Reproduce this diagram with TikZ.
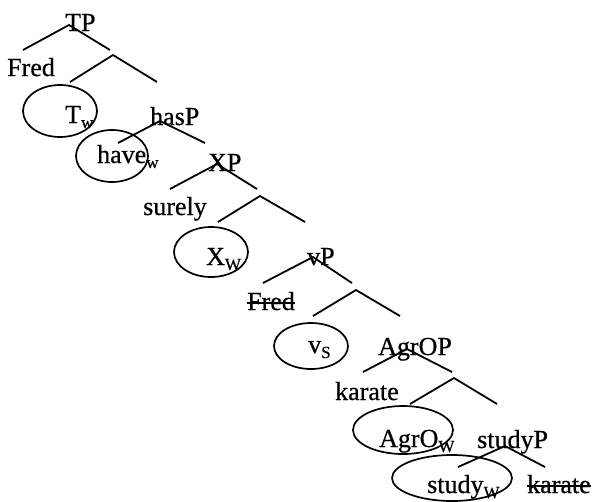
\documentclass[tikz,border=0pt]{standalone}
\usepackage{fontspec}
\setmainfont{Liberation Serif}[FakeBold=0.6]
\usetikzlibrary{shapes.geometric}
\newcommand\mysub[1]{\raisebox{-5pt}{\fontsize{17}{17}\selectfont #1}}
\tikzset{
  lbl/.style={anchor=base west, inner sep=0pt, font=\fontsize{26}{30}\selectfont},
  branch/.style={line width=1.8pt},
  ring/.style={draw, ellipse, line width=1.7pt, inner sep=0pt},
  strike/.style={line width=1.3pt}
}
\begin{document}
\begin{tikzpicture}[x=1pt,y=-1pt]
\useasboundingbox (0,0) rectangle (593,501);
% ellipses
\node[ring, minimum width=74pt, minimum height=52pt] (eT) at (60,111) {};
\node[ring, minimum width=72pt, minimum height=52pt] (eHave) at (112,156) {};
\node[ring, minimum width=74pt, minimum height=50pt] (eX) at (211,252) {};
\node[ring, minimum width=74pt, minimum height=46pt] (eV) at (311,346) {};
\node[ring, minimum width=100pt, minimum height=48pt] (eAgr) at (403,430) {};
\node[ring, minimum width=120pt, minimum height=46pt] (eStudy) at (452,478) {};
% labels
\node[lbl] (tp) at (65,31) {TP};
\node[lbl] (fred) at (7,76) {Fred};
\node[lbl] (tw) at (65,123) {T\mysub{w}};
\node[lbl] (hasp) at (150,125) {hasP};
\node[lbl] (have) at (97,163) {have\mysub{w}};
\node[lbl] (xp) at (208,171) {XP};
\node[lbl] (surely) at (143,215) {surely};
\node[lbl] (xw) at (206,265) {X\mysub{W}};
\node[lbl] (vp) at (307,265) {vP};
\node[lbl] (fred2) at (247,310) {Fred};
\node[lbl] (vs) at (308,353) {v\mysub{S}};
\node[lbl] (agrop) at (378,355) {AgrOP};
\node[lbl] (karate) at (335,400) {karate};
\node[lbl] (agrow) at (379,447) {AgrO\mysub{W}};
\node[lbl] (studyp) at (477,448) {studyP};
\node[lbl] (study) at (427,493) {study\mysub{W}};
\node[lbl] (karate2) at (527,493) {karate};
% strikethroughs
\draw[strike] ([yshift=7pt]fred2.base west) -- ([yshift=7pt]fred2.base east);
\draw[strike] ([yshift=7pt]karate2.base west) -- ([yshift=7pt]karate2.base east);
% branch points
\coordinate (a1) at (69,25);  \coordinate (a1l) at (23,50);  \coordinate (a1r) at (110,50);
\coordinate (a2) at (113,55); \coordinate (a2l) at (70,82);  \coordinate (a2r) at (157,82);
\coordinate (a3) at (160,121);\coordinate (a3l) at (118,143);\coordinate (a3r) at (205,143);
\coordinate (a4) at (217,164);\coordinate (a4l) at (170,189);\coordinate (a4r) at (257,189);
\coordinate (a5) at (260,196);\coordinate (a5l) at (218,222);\coordinate (a5r) at (305,222);
\coordinate (a6) at (313,257);\coordinate (a6l) at (263,283);\coordinate (a6r) at (352,283);
\coordinate (a7) at (356,290);\coordinate (a7l) at (313,316);\coordinate (a7r) at (400,316);
\coordinate (a8) at (407,349);\coordinate (a8l) at (363,372);\coordinate (a8r) at (452,372);
\coordinate (a9) at (454,378);\coordinate (a9l) at (410,404);\coordinate (a9r) at (497,404);
\coordinate (a10) at (505,446);\coordinate (a10l) at (458,467);\coordinate (a10r) at (545,467);
\foreach \i in {1,...,10}{
  \draw[branch] (a\i l) -- (a\i) -- (a\i r);
}
\end{tikzpicture}
\end{document}
